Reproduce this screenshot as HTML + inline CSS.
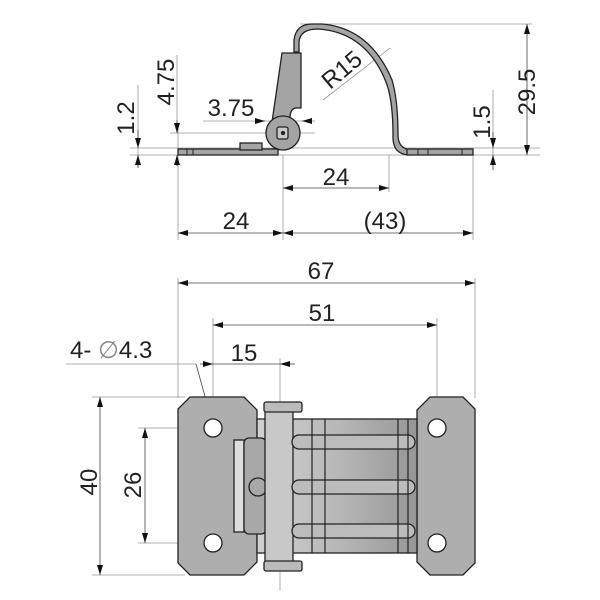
<!DOCTYPE html>
<html><head><style>body{margin:0;background:#fff}svg{display:block}</style></head>
<body>
<svg width="600" height="600" viewBox="0 0 600 600" xmlns="http://www.w3.org/2000/svg" font-family="Liberation Sans, sans-serif">
<defs>
<marker id="a" markerWidth="10" markerHeight="6" refX="10" refY="3" orient="auto" markerUnits="userSpaceOnUse"><path d="M0,0 L10,3 L0,6z" fill="#111"/></marker>
<linearGradient id="g" x1="0" x2="1"><stop offset="0" stop-color="#d0d0d0"/><stop offset="0.5" stop-color="#b8b8b8"/><stop offset="1" stop-color="#969696"/></linearGradient>
</defs>
<g stroke="#999" stroke-width="0.8" fill="none">
<line x1="300" y1="24" x2="532" y2="24"/>
<line x1="130" y1="148" x2="540" y2="148"/>
<line x1="130" y1="155" x2="540" y2="155"/>
<line x1="170" y1="133" x2="315" y2="133"/>
<line x1="178" y1="125" x2="178" y2="240"/>
<line x1="283" y1="155" x2="283" y2="240"/>
<line x1="389" y1="155" x2="389" y2="192"/>
<line x1="473" y1="155" x2="473" y2="240"/>
<line x1="203" y1="121" x2="315" y2="121"/>
<line x1="138" y1="85" x2="138" y2="168"/>
<line x1="177" y1="55" x2="177" y2="130"/>
<line x1="493" y1="90" x2="493" y2="170"/>
<line x1="323" y1="100" x2="390" y2="48"/>
<line x1="178" y1="278" x2="178" y2="398"/>
<line x1="475" y1="278" x2="475" y2="398"/>
<line x1="213" y1="318" x2="213" y2="560"/>
<line x1="437" y1="318" x2="437" y2="560"/>
<line x1="280" y1="358" x2="280" y2="590"/>
<line x1="66" y1="364" x2="196" y2="364"/>
<line x1="92" y1="397" x2="185" y2="397"/>
<line x1="92" y1="575" x2="185" y2="575"/>
<line x1="138" y1="428" x2="225" y2="428"/>
<line x1="138" y1="543" x2="225" y2="543"/>
<line x1="425" y1="428" x2="450" y2="428"/>
<line x1="425" y1="543" x2="450" y2="543"/>
</g>
<g stroke="#444" stroke-width="0.8" fill="none">
<line x1="527" y1="90" x2="527" y2="24" marker-end="url(#a)"/><line x1="527" y1="90" x2="527" y2="155" marker-end="url(#a)"/>
<line x1="493" y1="132" x2="493" y2="148" marker-end="url(#a)"/><line x1="493" y1="170" x2="493" y2="155" marker-end="url(#a)"/>
<line x1="138" y1="130" x2="138" y2="148" marker-end="url(#a)"/><line x1="138" y1="168" x2="138" y2="155" marker-end="url(#a)"/>
<line x1="177" y1="120" x2="177" y2="133" marker-end="url(#a)"/><line x1="177" y1="166" x2="177" y2="155" marker-end="url(#a)"/>
<line x1="255" y1="121" x2="265" y2="121" marker-end="url(#a)"/><line x1="310" y1="121" x2="302" y2="121" marker-end="url(#a)"/>
<line x1="336" y1="188" x2="283" y2="188" marker-end="url(#a)"/><line x1="336" y1="188" x2="389" y2="188" marker-end="url(#a)"/>
<line x1="230" y1="233" x2="178" y2="233" marker-end="url(#a)"/><line x1="230" y1="233" x2="283" y2="233" marker-end="url(#a)"/>
<line x1="378" y1="233" x2="283" y2="233" marker-end="url(#a)"/><line x1="378" y1="233" x2="473" y2="233" marker-end="url(#a)"/>
<line x1="326" y1="283" x2="178" y2="283" marker-end="url(#a)"/><line x1="326" y1="283" x2="475" y2="283" marker-end="url(#a)"/>
<line x1="325" y1="325" x2="213" y2="325" marker-end="url(#a)"/><line x1="325" y1="325" x2="437" y2="325" marker-end="url(#a)"/>
<line x1="200" y1="364" x2="213" y2="364" marker-end="url(#a)"/><line x1="295" y1="364" x2="280" y2="364" marker-end="url(#a)"/>
<line x1="213" y1="364" x2="280" y2="364"/>
<line x1="196" y1="364" x2="211" y2="418" marker-end="url(#a)"/>
<line x1="100" y1="486" x2="100" y2="397" marker-end="url(#a)"/><line x1="100" y1="486" x2="100" y2="575" marker-end="url(#a)"/>
<line x1="145" y1="486" x2="145" y2="428" marker-end="url(#a)"/><line x1="145" y1="486" x2="145" y2="543" marker-end="url(#a)"/>
</g>
<g stroke="#222" stroke-width="1.3" fill="#a4a4a4">
<rect x="178" y="149" width="100" height="6"/>
<path d="M294,52 L294,40 Q296,24 312,24 L322,24 Q370,28 392,80 Q398,100 398,135 Q398,148 410,150 L410,155 Q392,155 393,135 Q393,100 386,82 Q366,32 318,29 Q300,29 299,42 L299,52 Z"/>
<rect x="407" y="149" width="66" height="6"/>
<path d="M282,53 L301,53 L301,108 L295,108 Q290,110 290,118 L290,122 L272,122 Z"/>
<circle cx="283" cy="133" r="17"/>
<rect x="277" y="127" width="11" height="12" rx="2" fill="#c8c8c8"/>
<circle cx="283" cy="133" r="1.5" fill="#222"/>
<rect x="240" y="143" width="22" height="7"/>
</g>
<g stroke="#222" stroke-width="1" fill="none">
<line x1="187" y1="149" x2="187" y2="155"/><line x1="193" y1="149" x2="193" y2="155"/>
<line x1="418" y1="149" x2="418" y2="155"/><line x1="428" y1="149" x2="428" y2="155"/><line x1="462" y1="149" x2="462" y2="155"/>
</g>
<g stroke="#222" stroke-width="1.3">
<path d="M190,397 L244,397 L257,410 L257,562 L244,575 L190,575 L178,563 L178,409 Z" fill="#aeaeae"/>
<path d="M430,397 L463,397 L475,409 L475,563 L463,575 L430,575 L417,562 L417,410 Z" fill="#aeaeae"/>
<rect x="257" y="419" width="160" height="134" fill="url(#g)"/>
<rect x="234" y="440" width="10" height="92" fill="#ddd"/>
<rect x="244" y="438" width="22" height="96" rx="5" fill="#a8a8a8"/>
<circle cx="258" cy="487" r="9" fill="#a8a8a8"/>
<rect x="265" y="403" width="28" height="167" rx="3" fill="#c8c8c8"/>
<rect x="264" y="402" width="38" height="10" rx="2" fill="#bbb"/>
<rect x="264" y="561" width="38" height="10" rx="2" fill="#bbb"/>
<rect x="292" y="435" width="123" height="14" rx="7" fill="#bcbcbc"/>
<rect x="292" y="480" width="123" height="14" rx="7" fill="#bcbcbc"/>
<rect x="292" y="524" width="123" height="14" rx="7" fill="#bcbcbc"/>
<g fill="#fff">
<circle cx="213" cy="428" r="9"/><circle cx="213" cy="543" r="9"/>
<circle cx="437" cy="428" r="9"/><circle cx="437" cy="543" r="9"/>
</g>
</g>
<g stroke="#222" stroke-width="1.2">
<line x1="312" y1="419" x2="312" y2="553"/><line x1="325" y1="419" x2="325" y2="553"/>
<line x1="398" y1="419" x2="398" y2="553"/><line x1="408" y1="419" x2="408" y2="553"/>
</g>
<g fill="#222" font-size="24">
<text x="0" y="0" transform="translate(535,92) rotate(-90)" text-anchor="middle">29.5</text>
<text x="0" y="0" transform="translate(490,122) rotate(-90)" text-anchor="middle">1.5</text>
<text x="0" y="0" transform="translate(134,118) rotate(-90)" text-anchor="middle">1.2</text>
<text x="0" y="0" transform="translate(174,82) rotate(-90)" text-anchor="middle">4.75</text>
<text x="231" y="116" text-anchor="middle">3.75</text>
<text x="0" y="0" transform="translate(347,76) rotate(-40)" text-anchor="middle">R15</text>
<text x="336" y="185" text-anchor="middle">24</text>
<text x="236" y="229" text-anchor="middle">24</text>
<text x="385" y="229" text-anchor="middle">(43)</text>
<text x="321" y="279" text-anchor="middle">67</text>
<text x="322" y="321" text-anchor="middle">51</text>
<text x="244" y="361" text-anchor="middle">15</text>
<text x="70" y="358">4- <tspan fill="#888">∅</tspan>4.3</text>
<text x="0" y="0" transform="translate(97,482) rotate(-90)" text-anchor="middle">40</text>
<text x="0" y="0" transform="translate(141,485) rotate(-90)" text-anchor="middle">26</text>
</g>
</svg>
</body></html>
